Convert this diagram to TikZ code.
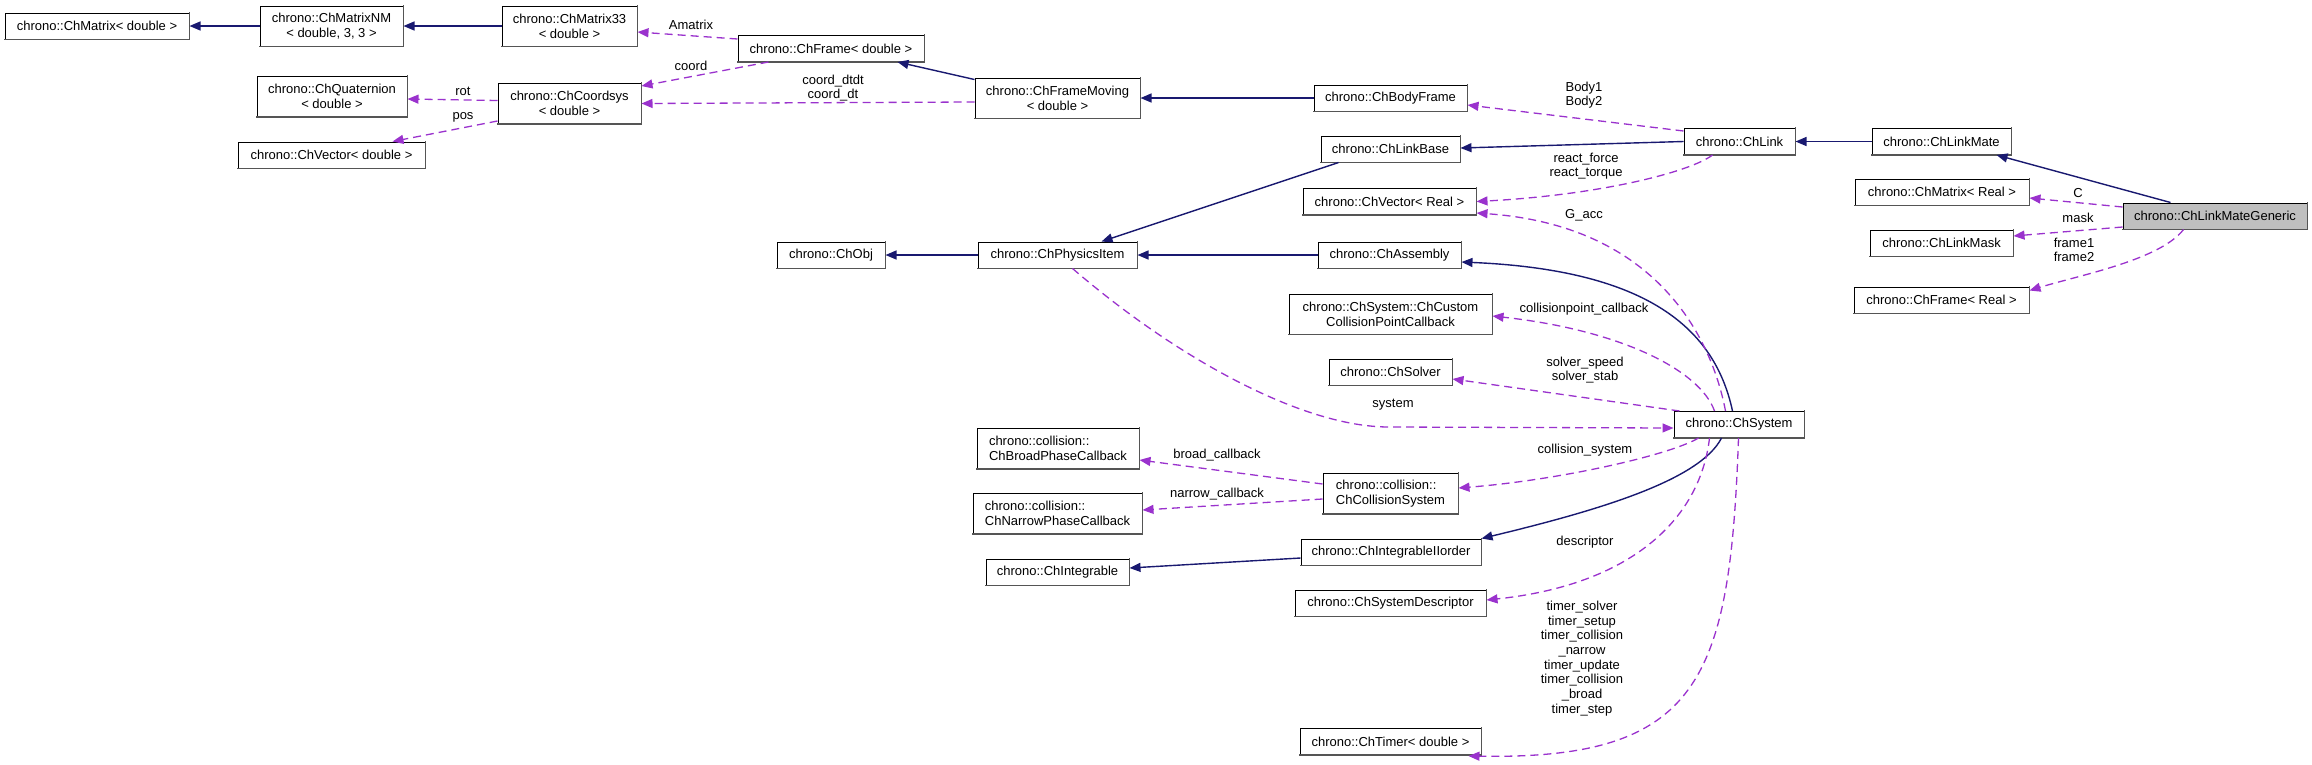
\documentclass[tikz,border=0pt]{standalone}
\usepackage{fontspec}
\setmainfont{Liberation Sans}
\usetikzlibrary{arrows.meta,calc}
\definecolor{inhcol}{HTML}{191970}
\definecolor{usecol}{HTML}{9A32CD}
\definecolor{genfill}{HTML}{BFBFBF}
\definecolor{shadecol}{HTML}{555555}
\begin{document}
\begin{tikzpicture}[x=1pt,y=-1pt,
  box/.style={draw=black, line width=1pt, fill=white, inner sep=0pt, align=center,
    font=\fontsize{13}{15}\selectfont,
    append after command={(\tikzlastnode.north east) edge[draw=shadecol, line width=1.6pt, line cap=rect] (\tikzlastnode.south east)
      (\tikzlastnode.south east) edge[draw=shadecol, line width=1.6pt, line cap=rect] (\tikzlastnode.south west)}},
  lbox/.style={box, align=left},
  lbl/.style={inner sep=0pt, align=center, font=\fontsize{13}{14.7}\selectfont},
  inhe/.style={draw=inhcol, line width=1.4pt, -{Triangle[length=11pt,width=9pt]}, fill=none},
  usee/.style={draw=usecol, line width=1.3pt, dash pattern=on 8pt off 5pt,
    -{Triangle[length=11pt,width=9pt,fill=usecol]}, fill=none}
]
\useasboundingbox (0,0) rectangle (2312,764);

% nodes
\node[box, minimum width=184, minimum height=26] (mat_d) at (97,26) {chrono::ChMatrix< double >};
\node[box, minimum width=143, minimum height=40] (matnm) at (331.5,26) {chrono::ChMatrixNM\\< double, 3, 3 >};
\node[box, minimum width=135, minimum height=40] (mat33) at (569.5,26) {chrono::ChMatrix33\\< double >};
\node[box, minimum width=150, minimum height=40] (quat) at (332,96.5) {chrono::ChQuaternion\\< double >};
\node[box, minimum width=143, minimum height=40] (coordsys) at (569.5,103.5) {chrono::ChCoordsys\\< double >};
\node[box, minimum width=187, minimum height=26] (vec_d) at (331.5,155) {chrono::ChVector< double >};
\node[box, minimum width=186, minimum height=26] (frame_d) at (831,48.5) {chrono::ChFrame< double >};
\node[box, minimum width=165, minimum height=40] (framemov) at (1057.5,98) {chrono::ChFrameMoving\\< double >};
\node[box, minimum width=153, minimum height=26] (bodyframe) at (1390.5,98) {chrono::ChBodyFrame};
\node[box, minimum width=139, minimum height=26] (linkbase) at (1390.5,149) {chrono::ChLinkBase};
\node[box, minimum width=111, minimum height=26] (link) at (1739.5,141.5) {chrono::ChLink};
\node[box, minimum width=139, minimum height=26] (linkmate) at (1941.5,141.5) {chrono::ChLinkMate};
\node[box, minimum width=174, minimum height=26] (mat_r) at (1942,192) {chrono::ChMatrix< Real >};
\node[box, fill=genfill, minimum width=184, minimum height=26] (generic) at (2215,216) {chrono::ChLinkMateGeneric};
\node[box, minimum width=143, minimum height=26] (linkmask) at (1941.5,243) {chrono::ChLinkMask};
\node[box, minimum width=175, minimum height=26] (frame_r) at (1941.5,300) {chrono::ChFrame< Real >};
\node[box, minimum width=173, minimum height=26] (vec_r) at (1389.5,201.5) {chrono::ChVector< Real >};
\node[box, minimum width=108, minimum height=26] (chobj) at (831,255) {chrono::ChObj};
\node[box, minimum width=159, minimum height=26] (physitem) at (1057.5,255) {chrono::ChPhysicsItem};
\node[box, minimum width=143, minimum height=26] (assembly) at (1389.5,255) {chrono::ChAssembly};
\node[box, minimum width=203, minimum height=40] (custom) at (1390.5,314) {chrono::ChSystem::ChCustom\\CollisionPointCallback};
\node[box, minimum width=123, minimum height=26] (solver) at (1390.5,372) {chrono::ChSolver};
\node[box, minimum width=130, minimum height=26] (system) at (1739,424.5) {chrono::ChSystem};
\node[lbox, minimum width=162, minimum height=40] (broad) at (1058,448.5) {chrono::collision::\\ChBroadPhaseCallback};
\node[lbox, minimum width=135, minimum height=40] (collsys) at (1390.5,493.5) {chrono::collision::\\ChCollisionSystem};
\node[lbox, minimum width=169, minimum height=40] (narrow) at (1057.5,513.5) {chrono::collision::\\ChNarrowPhaseCallback};
\node[box, minimum width=180, minimum height=26] (iiorder) at (1391,552) {chrono::ChIntegrableIIorder};
\node[box, minimum width=143, minimum height=26] (integrable) at (1057.5,572) {chrono::ChIntegrable};
\node[box, minimum width=191, minimum height=26] (sysdesc) at (1390.5,603) {chrono::ChSystemDescriptor};
\node[box, minimum width=181, minimum height=26] (timer) at (1390.5,741.5) {chrono::ChTimer< double >};

% inheritance edges
\draw[inhe] (matnm.west) -- (mat_d.east);
\draw[inhe] (mat33.west) -- (matnm.east);
\draw[inhe] ($(framemov.north west)+(0,2)$) -- ($(frame_d.south west)+(160,0)$);
\draw[inhe] (bodyframe.west) -- (framemov.east);
\draw[inhe] (link.west) -- ($(linkbase.east)+(0,-1)$);
\draw[inhe] (linkmate.west) -- (link.east);
\draw[inhe] ($(generic.north west)+(48,0)$) -- ($(linkmate.south west)+(125,0)$);
\draw[inhe] ($(linkbase.south west)+(18,0)$) -- ($(physitem.north west)+(124,0)$);
\draw[inhe] (physitem.west) -- (chobj.east);
\draw[inhe] (assembly.west) -- (physitem.east);
\draw[inhe] ($(system.north west)+(59,0)$) .. controls (1715,330) and (1650,270) .. ($(assembly.east)+(0,7)$);
\draw[inhe] ($(system.south west)+(48,0)$) .. controls (1700,480) and (1600,510) .. (iiorder.north east);
\draw[inhe] ($(iiorder.west)+(0,6)$) -- ($(integrable.east)+(0,-4)$);

% usage edges
\draw[usee] ($(frame_d.north west)+(0,4)$) -- ($(mat33.east)+(0,6)$);
\draw[usee] ($(frame_d.south west)+(31,0)$) -- ($(coordsys.north east)+(0,3)$);
\draw[usee] ($(framemov.west)+(0,4)$) -- (coordsys.east);
\draw[usee] ($(coordsys.west)+(0,-3)$) -- ($(quat.east)+(0,2.5)$);
\draw[usee] ($(coordsys.south west)+(0,-3)$) -- ($(vec_d.north west)+(155,0)$);
\draw[usee] ($(link.north west)+(0,3)$) -- ($(bodyframe.east)+(0,7)$);
\draw[usee] ($(link.south west)+(29,0)$) .. controls (1690,172) and (1600,195) .. (vec_r.east);
\draw[usee] ($(system.north west)+(52,0)$) .. controls (1710,330) and (1650,225) .. ($(vec_r.south east)+(0,-2)$);
\draw[usee] ($(system.north west)+(41,0)$) .. controls (1700,370) and (1620,330) .. ($(custom.east)+(0,2)$);
\draw[usee] ($(system.north west)+(6,0)$) -- ($(solver.east)+(0,7)$);
\draw[usee] ($(physitem.south west)+(95,0)$) .. controls (1173,355) and (1300,427) .. (1389,427) -- ($(system.west)+(0,3.5)$);
\draw[usee] ($(system.south west)+(25,0)$) .. controls (1670,455) and (1560,480) .. ($(collsys.east)+(0,-5.5)$);
\draw[usee] ($(collsys.west)+(0,-9.5)$) -- ($(broad.east)+(0,11.5)$);
\draw[usee] ($(collsys.west)+(0,5.5)$) -- ($(narrow.east)+(0,-3.5)$);
\draw[usee] ($(system.south west)+(36,0)$) .. controls (1700,520) and (1630,585) .. ($(sysdesc.east)+(0,-3)$);
\draw[usee] ($(system.south west)+(65,0)$) .. controls (1730,680) and (1700,760) .. ($(timer.south east)+(-13,1)$);
\draw[usee] ($(generic.west)+(0,-9)$) -- ($(mat_r.east)+(0,6)$);
\draw[usee] ($(generic.west)+(0,11)$) -- ($(linkmask.east)+(0,-7)$);
\draw[usee] ($(generic.south west)+(61,0)$) .. controls (2160,260) and (2080,275) .. ($(frame_r.north east)+(0,4)$);

% labels
\node[lbl] (l_amatrix) at (691,25) {Amatrix};
\node[lbl] (l_coord) at (691,66) {coord};
\node[lbl] (l_coorddt) at (833,88) {coord\_dtdt\\coord\_dt};
\node[lbl] (l_rot) at (463,91) {rot};
\node[lbl] (l_pos) at (463,117) {pos};
\node[lbl] (l_body) at (1584,95) {Body1\\Body2};
\node[lbl] (l_react) at (1586,166) {react\_force\\react\_torque};
\node[lbl] (l_gacc) at (1584,215) {G\_acc};
\node[lbl] (l_cpcb) at (1584,309) {collisionpoint\_callback};
\node[lbl] (l_solver) at (1585,370) {solver\_speed\\solver\_stab};
\node[lbl] (l_system) at (1393,405) {system};
\node[lbl] (l_collsys) at (1585,450) {collision\_system};
\node[lbl] (l_broad) at (1217,455) {broad\_callback};
\node[lbl] (l_narrow) at (1217,494) {narrow\_callback};
\node[lbl] (l_desc) at (1585,542) {descriptor};
\node[lbl] (l_timer) at (1582,658.5) {timer\_solver\\timer\_setup\\timer\_collision\\\_narrow\\timer\_update\\timer\_collision\\\_broad\\timer\_step};
\node[lbl] (l_c) at (2078,193) {C};
\node[lbl] (l_mask) at (2078,218) {mask};
\node[lbl] (l_frame) at (2074,250) {frame1\\frame2};
\end{tikzpicture}
\end{document}
